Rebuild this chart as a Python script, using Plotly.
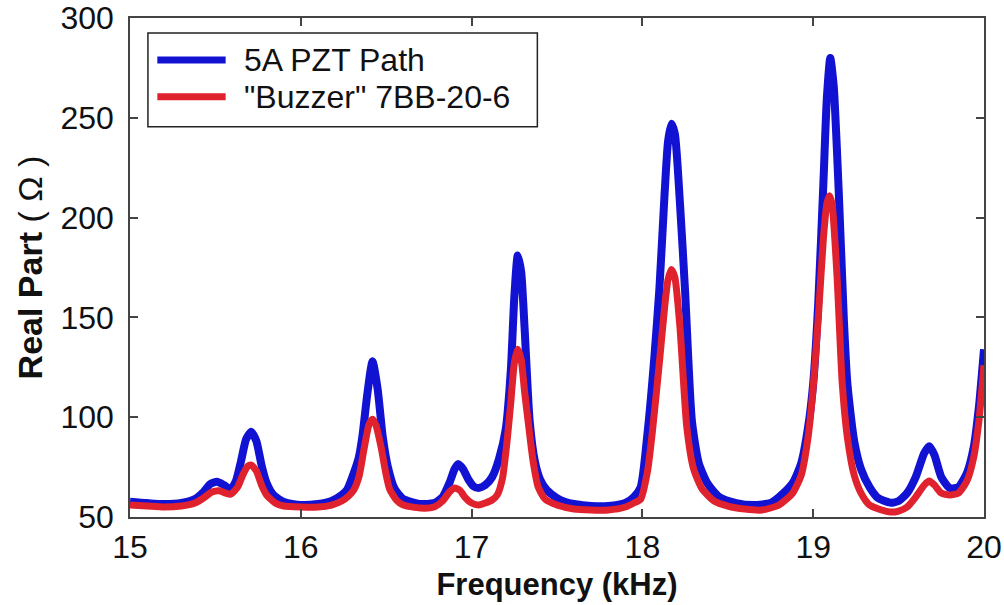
import plotly.graph_objects as go

# ---- data ----
freq_pzt = [15.00, 15.10, 15.20, 15.30, 15.38, 15.43, 15.47, 15.51, 15.55, 15.59,
            15.62, 15.65, 15.68, 15.71, 15.74, 15.77, 15.80, 15.84, 15.90, 16.00,
            16.10, 16.18, 16.24, 16.27, 16.31, 16.34, 16.36, 16.39, 16.42, 16.45,
            16.48, 16.51, 16.55, 16.60, 16.65, 16.70, 16.78, 16.83, 16.87, 16.90,
            16.92, 16.95, 16.98, 17.01, 17.04, 17.08, 17.12, 17.16, 17.20, 17.23,
            17.25, 17.27, 17.29, 17.31, 17.34, 17.37, 17.40, 17.44, 17.50, 17.55,
            17.60, 17.70, 17.80, 17.90, 17.95, 17.99, 18.03, 18.07, 18.10, 18.13,
            18.15, 18.17, 18.19, 18.22, 18.25, 18.29, 18.33, 18.38, 18.45, 18.55,
            18.65, 18.75, 18.80, 18.88, 18.93, 18.97, 19.00, 19.03, 19.06, 19.08,
            19.10, 19.12, 19.15, 19.18, 19.20, 19.24, 19.28, 19.33, 19.38, 19.45,
            19.50, 19.55, 19.60, 19.65, 19.68, 19.71, 19.75, 19.80, 19.85, 19.90,
            19.94, 19.97, 20.00]
real_pzt = [57.7, 57.0, 56.5, 57.0, 59.0, 62.5, 66.5, 67.7, 66.0, 64.0,
            68.0, 78.0, 89.0, 92.7, 88.0, 76.0, 67.0, 61.0, 57.5, 56.0,
            56.5, 58.0, 61.0, 63.5, 72.0, 80.0, 90.0, 112.0, 128.0, 114.0,
            90.0, 75.0, 64.0, 59.0, 57.5, 56.5, 57.0, 60.0, 67.0, 74.0,
            76.5, 74.0, 69.0, 65.5, 64.5, 66.0, 70.0, 79.0, 94.0, 124.0,
            160.0, 181.0, 173.0, 145.0, 98.0, 78.0, 69.0, 63.5, 59.5, 57.5,
            56.5, 55.5, 55.5, 57.0, 60.0, 65.0, 92.0, 130.0, 165.0, 212.0,
            238.0, 247.0, 242.0, 207.0, 163.0, 98.0, 77.0, 67.0, 60.0, 57.0,
            56.0, 57.0, 60.0, 67.0, 77.0, 95.0, 117.0, 158.0, 218.0, 260.0,
            280.0, 266.0, 212.0, 148.0, 117.0, 88.0, 74.0, 65.0, 59.5, 57.2,
            58.0, 62.0, 70.0, 82.0, 85.5, 81.0, 70.0, 64.5, 65.0, 72.0,
            85.0, 105.0, 134.0]

freq_buzzer = [15.00, 15.10, 15.20, 15.30, 15.38, 15.43, 15.48, 15.52, 15.56, 15.59,
               15.63, 15.66, 15.69, 15.71, 15.74, 15.77, 15.80, 15.85, 15.90, 16.00,
               16.10, 16.18, 16.24, 16.28, 16.31, 16.34, 16.37, 16.40, 16.42, 16.44,
               16.47, 16.50, 16.52, 16.56, 16.60, 16.70, 16.78, 16.83, 16.87, 16.90,
               16.93, 16.96, 17.00, 17.04, 17.08, 17.12, 17.15, 17.18, 17.21, 17.23,
               17.25, 17.27, 17.29, 17.31, 17.335, 17.36, 17.39, 17.43, 17.50, 17.60,
               17.70, 17.80, 17.90, 17.95, 17.99, 18.03, 18.06, 18.10, 18.13, 18.15,
               18.17, 18.19, 18.22, 18.26, 18.30, 18.35, 18.42, 18.50, 18.60, 18.70,
               18.80, 18.88, 18.93, 18.97, 19.00, 19.03, 19.06, 19.08, 19.095, 19.11,
               19.14, 19.17, 19.20, 19.24, 19.28, 19.33, 19.40, 19.45, 19.50, 19.55,
               19.60, 19.65, 19.68, 19.71, 19.75, 19.80, 19.85, 19.90, 19.94, 19.97,
               20.00]
real_buzzer = [56.0, 55.5, 55.0, 55.5, 57.0, 59.5, 62.5, 63.2, 62.0, 61.4,
               65.0, 71.0, 75.5, 76.0, 73.0, 66.0, 61.0, 57.0, 55.5, 55.0,
               55.0, 56.0, 58.0, 60.5, 63.5, 70.0, 84.0, 96.5, 99.0, 96.0,
               85.0, 71.0, 64.0, 58.5, 56.0, 54.5, 55.0, 58.0, 62.5, 64.5,
               63.5, 60.0, 57.0, 56.0, 57.0, 58.5, 61.0, 69.0, 90.0, 108.0,
               127.0, 134.0, 129.0, 113.0, 95.0, 78.0, 65.0, 59.0, 56.0, 54.0,
               53.5, 53.5, 55.0, 57.0, 59.0, 73.0, 94.0, 128.0, 155.0, 169.0,
               174.0, 170.0, 145.0, 95.0, 74.0, 64.0, 58.0, 55.5, 54.0, 53.5,
               56.0, 62.0, 71.0, 90.0, 115.0, 150.0, 190.0, 207.0, 211.0, 207.0,
               170.0, 117.0, 90.0, 71.0, 62.0, 56.0, 53.5, 52.5, 53.0, 55.0,
               60.0, 66.0, 68.0, 66.0, 62.0, 61.0, 62.0, 68.0, 80.0, 98.0,
               126.0]

series_names = ["5A PZT Path", "\"Buzzer\" 7BB-20-6"]
series_colors = ["#1212d2", "#e0212e"]
x_ticks = [15, 16, 17, 18, 19, 20]
y_ticks = [50, 100, 150, 200, 250, 300]

FONT = "Arial, Liberation Sans, sans-serif"

fig = go.Figure()
fig.add_trace(go.Scatter(x=freq_pzt, y=real_pzt, mode="lines", name=series_names[0],
                         line=dict(color=series_colors[0], width=8, shape="spline", smoothing=0.6),
                         showlegend=False))
fig.add_trace(go.Scatter(x=freq_buzzer, y=real_buzzer, mode="lines", name=series_names[1],
                         line=dict(color=series_colors[1], width=7, shape="spline", smoothing=0.6),
                         showlegend=False))

axis_common = dict(showline=True, linecolor="#444", linewidth=1.5, mirror="ticks",
                   ticks="inside", ticklen=8, tickcolor="#444", tickwidth=1.5,
                   showgrid=False, zeroline=False, automargin=False,
                   ticklabeloverflow="allow",
                   tickfont=dict(family=FONT, size=32, color="#111"))

fig.update_layout(
    width=1004, height=605,
    margin=dict(l=130, r=20, t=18, b=88),
    paper_bgcolor="white", plot_bgcolor="white",
    xaxis=dict(range=[15, 20], tickvals=x_ticks, ticklabelstandoff=1,
               title=dict(text="<b>Frequency (kHz)</b>", font=dict(family=FONT, size=31, color="#111"),
                          standoff=9),
               **axis_common),
    yaxis=dict(range=[50, 300], tickvals=y_ticks, ticklabelstandoff=8,
               title=dict(text="<b>Real Part</b> ( Ω )", font=dict(family=FONT, size=34, color="#111"),
                          standoff=8),
               **axis_common),
)

# legend box drawn in paper coordinates
fig.add_shape(type="rect", xref="paper", yref="paper", x0=0.021, x1=0.477, y0=0.782, y1=0.970,
              line=dict(color="#222", width=1.5), fillcolor="white", layer="above")
legend_rows = [0.916, 0.842]
for name, color, yy in zip(series_names, series_colors, legend_rows):
    fig.add_shape(type="line", xref="paper", yref="paper", x0=0.032, x1=0.112, y0=yy, y1=yy,
                  line=dict(color=color, width=7), layer="above")
    fig.add_annotation(xref="paper", yref="paper", x=0.131, y=yy, text=name, showarrow=False,
                       xanchor="left", yanchor="middle",
                       font=dict(family=FONT, size=32, color="#111"))

# remove the browser's default 8px body margin so the figure fills the window
fig.write_html("out.html", config={"displayModeBar": False},
               post_script="document.body.style.margin='0';")
